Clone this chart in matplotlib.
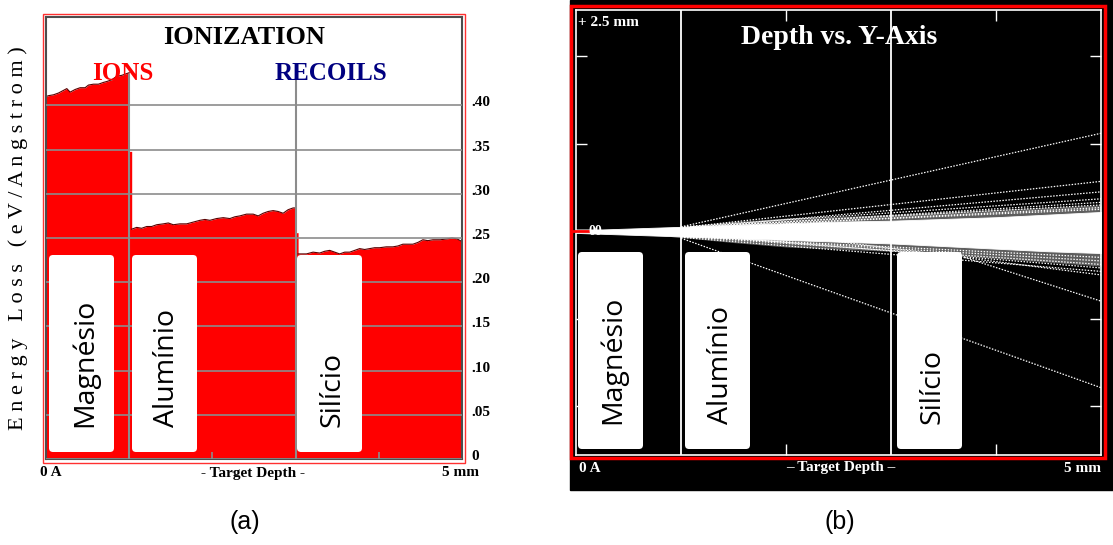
import matplotlib.pyplot as plt
import matplotlib as mpl
import numpy as np
from matplotlib.patches import Rectangle, FancyBboxPatch
from matplotlib.transforms import ScaledTranslation

plt.rcParams['font.family'] = 'Liberation Serif'

# ---------------- data: panel (a) ionization ----------------
mg_depth = [0.00, 0.03, 0.09, 0.15, 0.21, 0.25, 0.29, 0.35, 0.41, 0.47, 0.51, 0.57,
            0.63, 0.69, 0.73, 0.79, 0.85, 0.91, 0.97, 1.00]
mg_loss = [0.410, 0.411, 0.412, 0.414, 0.417, 0.419, 0.415, 0.418, 0.420, 0.420, 0.423,
           0.424, 0.424, 0.426, 0.427, 0.429, 0.433, 0.434, 0.436, 0.437]
mg_al_step = 0.348
al_depth = [1.03, 1.09, 1.15, 1.21, 1.27, 1.33, 1.41, 1.47, 1.53, 1.61, 1.69, 1.77, 1.85,
            1.91, 1.97, 2.05, 2.13, 2.21, 2.27, 2.33, 2.41, 2.49, 2.55, 2.61, 2.67, 2.73,
            2.79, 2.85, 2.91, 2.97, 3.00]
al_loss = [0.260, 0.262, 0.261, 0.263, 0.263, 0.265, 0.266, 0.267, 0.265, 0.266, 0.266,
           0.268, 0.270, 0.271, 0.270, 0.272, 0.273, 0.272, 0.274, 0.275, 0.277, 0.277,
           0.275, 0.278, 0.280, 0.281, 0.280, 0.278, 0.282, 0.284, 0.284]
al_si_step = 0.256
si_depth = [3.03, 3.13, 3.21, 3.29, 3.35, 3.41, 3.47, 3.53, 3.59, 3.65, 3.71, 3.77, 3.83,
            3.89, 3.95, 4.01, 4.09, 4.17, 4.23, 4.29, 4.35, 4.41, 4.47, 4.53, 4.59, 4.65,
            4.74, 4.82, 4.88, 4.94, 5.00]
si_loss = [0.232, 0.232, 0.234, 0.233, 0.235, 0.236, 0.234, 0.232, 0.234, 0.234, 0.236,
           0.238, 0.237, 0.238, 0.239, 0.239, 0.240, 0.240, 0.241, 0.243, 0.243, 0.243,
           0.245, 0.248, 0.247, 0.248, 0.248, 0.249, 0.250, 0.249, 0.246]

layer_bounds = [1, 3]
loss_ticks = [0, 0.05, 0.10, 0.15, 0.20, 0.25, 0.30, 0.35, 0.40]
loss_labels = ['0', '.05', '.10', '.15', '.20', '.25', '.30', '.35', '.40']
depth_ticks = [2, 4]
layer_names = ['Magnésio', 'Alumínio', 'Silício']

# ---------------- data: panel (b) depth vs y-axis ----------------
core_depth = [0.0, 0.25, 0.5, 0.75, 1.0, 1.5, 2.0, 2.5, 3.0, 3.5, 4.0, 4.5, 5.0]
core_top = [0.02, 0.02, 0.03, 0.04, 0.05, 0.07, 0.09, 0.11, 0.12, 0.14, 0.16, 0.19, 0.22]
core_bottom = [-0.02, -0.03, -0.04, -0.05, -0.06, -0.08, -0.10, -0.12, -0.14, -0.17,
               -0.20, -0.23, -0.25]
fringe_depth = [0.9, 1.5, 2.0, 3.0, 4.0, 5.0]
fringe_top = [0.04, 0.11, 0.15, 0.19, 0.25, 0.30]
fringe_bottom = [-0.06, -0.13, -0.18, -0.23, -0.31, -0.40]
# single scattered tracks: start depth, start y, y at 5 mm
track_start = [1.0, 1.0, 1.3, 1.0, 1.5, 1.1, 2.0, 1.2, 1.0, 1.2, 1.0, 1.5, 1.0, 2.5, 3.7, 1.0]
track_y0 = [0.05, 0.04, 0.06, 0.05, 0.07, 0.05, 0.09, 0.05,
            -0.06, -0.07, -0.06, -0.08, -0.07, -0.12, -0.30, -0.08]
track_y1 = [1.12, 0.57, 0.45, 0.37, 0.33, 0.30, 0.27, 0.25,
            -0.30, -0.34, -0.38, -0.42, -0.46, -0.50, -0.80, -1.79]
lateral_ticks = [-2, -1, 1, 2]

W, H = 1113, 545
fig = plt.figure(figsize=(W / 100, H / 100), dpi=100)


def ax_rect(left, top, right, bottom):
    return [left / W, 1 - bottom / H, (right - left) / W, (bottom - top) / H]


def ftext(x, y, s, **kw):
    return fig.text(x / W, 1 - y / H, s, **kw)


def frame(x0, y0, x1, y1, **kw):
    fig.add_artist(Rectangle((x0 / W, 1 - y1 / H), (x1 - x0) / W, (y1 - y0) / H,
                             transform=fig.transFigure, **kw))


# ================= panel (a) =================
ax1 = fig.add_axes(ax_rect(46, 17, 462, 459))
depth_a = mg_depth + [1.00, 1.03] + al_depth + [3.00, 3.03] + si_depth
loss_a = mg_loss + [mg_al_step, mg_al_step] + al_loss + [al_si_step, al_si_step] + si_loss
ax1.fill_between(depth_a, 0, loss_a, color='#ff0000', lw=0, zorder=1)
for d, l in [(mg_depth, mg_loss), (al_depth, al_loss), (si_depth, si_loss)]:
    ax1.plot(d, l, color='#5a0000', lw=0.8, zorder=1.5)
ax1.set_xlim(0, 5)
ax1.set_ylim(0, 0.5)
ax1.set_yticks(loss_ticks, loss_labels)
ax1.yaxis.tick_right()
ax1.tick_params(axis='y', length=0, pad=7, labelsize=11)
off = ScaledTranslation(0, 4 / 100, fig.dpi_scale_trans)
for t in ax1.get_yticklabels():
    t.set_fontweight('bold')
    t.set_transform(t.get_transform() + off)
ax1.set_xticks(depth_ticks, ['', ''])
ax1.tick_params(axis='x', direction='in', length=5, width=1.2, color='#8c8c8c')
ax1.grid(axis='y', color='#8c8c8c', lw=1.2)
ax1.set_axisbelow(False)
ax1.vlines(layer_bounds, 0, 0.435, colors='#8c8c8c', lw=1.5, zorder=3)
for s in ax1.spines.values():
    s.set_color('#4d4d4d')
    s.set_linewidth(1.5)
frame(43, 14, 465, 463, fill=False, ec='#ff3030', lw=1)

ftext(244, 37, 'IONIZATION', ha='center', va='center', fontsize=19, fontweight='bold')
ftext(123, 73, 'IONS', ha='center', va='center', fontsize=18, fontweight='bold',
      color='#ff0000')
ftext(331, 73, 'RECOILS', ha='center', va='center', fontsize=18, fontweight='bold',
      color='#000080')
ftext(18, 238, 'E n e r g y   L o s s   ( e V / A n g s t r o m )', rotation=90,
      ha='center', va='center', fontsize=16)
ftext(51, 473, '0 A', ha='center', va='center', fontsize=11, fontweight='bold')
ftext(253, 473, '- Target Depth -', ha='center', va='center', fontsize=11,
      fontweight='bold')
ftext(460, 473, '5 mm', ha='center', va='center', fontsize=11, fontweight='bold')

# ================= panel (b) =================
fig.add_artist(Rectangle((570 / W, 1 - 490 / H), (W - 570) / W, 490 / H,
                         transform=fig.transFigure, color='black', zorder=-1))
ax2 = fig.add_axes(ax_rect(576, 10, 1101, 455))
ax2.set_facecolor('black')
ax2.fill_between(fringe_depth, fringe_bottom, fringe_top, color='#5e5e5e', lw=0)
for d0, y0, y1 in zip(track_start, track_y0, track_y1):
    ax2.plot([d0, 5], [y0, y1], color='white', lw=0.9, ls=(0, (1.2, 1.2)))
ax2.fill_between(core_depth, core_bottom, core_top, color='white', lw=0.6, ec='white')
ax2.set_xlim(0, 5)
ax2.set_ylim(-2.56, 2.53)
for v in layer_bounds:
    ax2.axvline(v, color='white', lw=1.3)
ax2.set_yticks(lateral_ticks, ['', '', '', ''])
ax2.set_xticks(depth_ticks, ['', ''])
ax2.tick_params(direction='in', length=8, width=1, color='white',
                left=True, right=True, top=True, bottom=True)
for s in ax2.spines.values():
    s.set_color('white')
    s.set_linewidth(1.2)
frame(571, 6, 1105, 458, fill=False, ec='#ff0000', lw=2.5)
fig.add_artist(plt.Line2D([573 / W, 589 / W], [1 - 231 / H, 1 - 231 / H],
                          color='#ff0000', lw=2))

ftext(839, 38, 'Depth vs. Y-Axis', ha='center', va='center', fontsize=20,
      fontweight='bold', color='white')
ftext(578, 23, '+ 2.5 mm', ha='left', va='center', fontsize=11, fontweight='bold',
      color='white')
ftext(595, 231, '00', ha='center', va='center', fontsize=10, fontweight='bold',
      color='white')
ftext(590, 468, '0 A', ha='center', va='center', fontsize=11, fontweight='bold',
      color='white')
ftext(841, 468, '\u2013 Target Depth \u2013', ha='center', va='center', fontsize=11,
      fontweight='bold', color='white')
ftext(1082, 468, '5 mm', ha='center', va='center', fontsize=11, fontweight='bold',
      color='white')

# ================= layer boxes =================
box_w, box_h = 65, 197
for lefts, top in [([49, 132, 297], 255), ([578, 685, 897], 252)]:
    for left, name in zip(lefts, layer_names):
        fig.add_artist(FancyBboxPatch(((left) / 100, (H - top - box_h) / 100),
                                      box_w / 100, box_h / 100,
                                      boxstyle='round,pad=0,rounding_size=0.04',
                                      transform=fig.dpi_scale_trans,
                                      fc='white', ec='none', zorder=2))
        ftext(left + box_w / 2 + 3, top + box_h - 25, name, rotation=90,
              ha='center', va='bottom', fontsize=20.5, family='Open Sans', zorder=3)

ftext(245, 522, '(a)', ha='center', va='center', fontsize=18, family='Liberation Sans')
ftext(840, 522, '(b)', ha='center', va='center', fontsize=18, family='Liberation Sans')

plt.savefig('out.png', dpi=100)
